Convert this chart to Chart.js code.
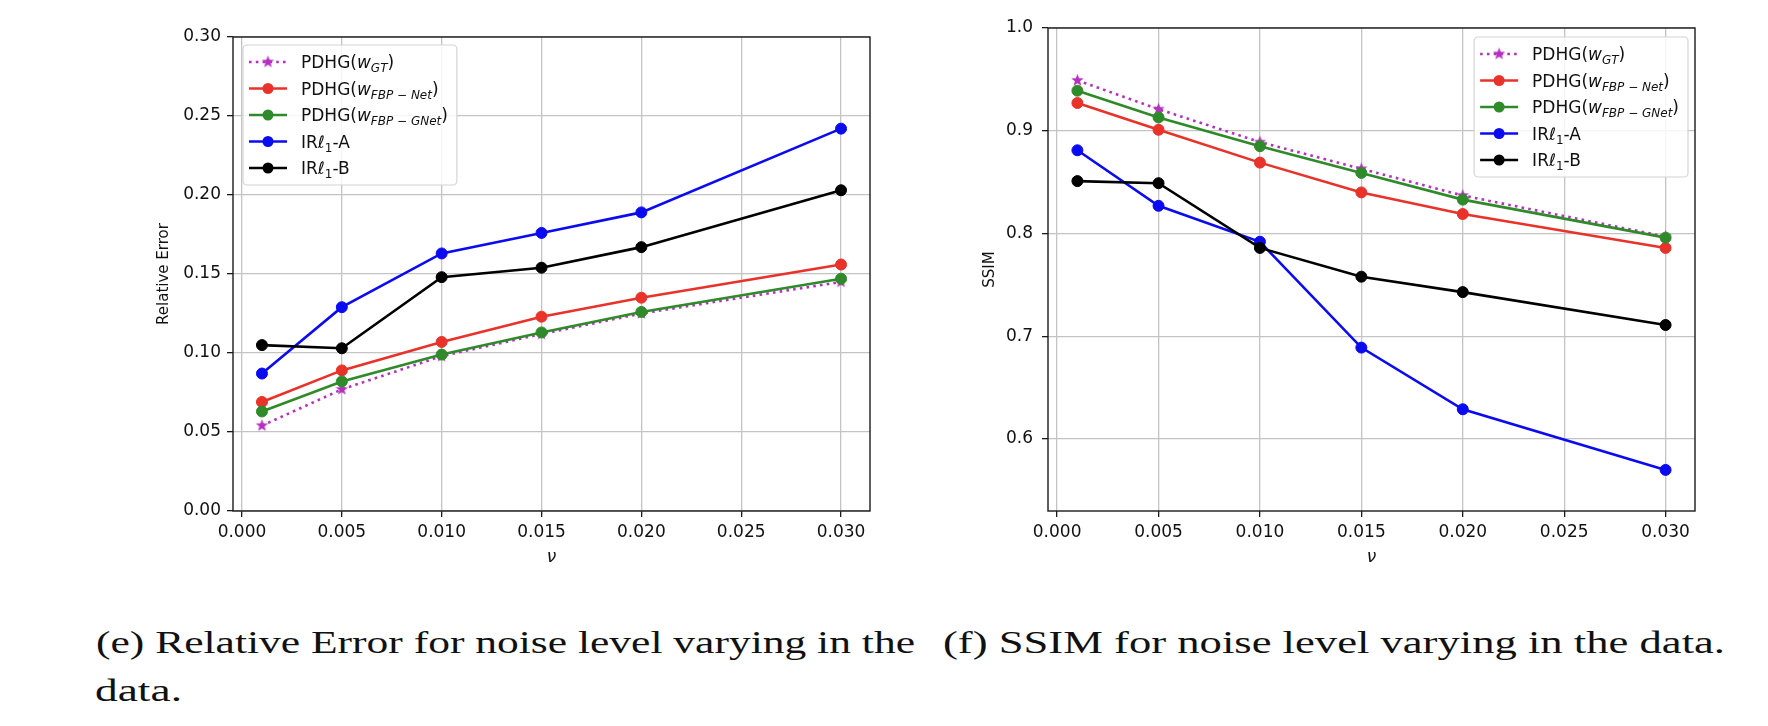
<!DOCTYPE html>
<html lang="en">
<head>
<meta charset="UTF-8">
<title>Relative Error and SSIM for varying noise level</title>
<script src="https://cdn.jsdelivr.net/npm/chart.js"></script>
<style>
  body { margin: 0; background: #fff; width: 1768px; height: 726px; position: relative; overflow: hidden; }
  .plot { position: absolute; top: 0; width: 800px; height: 590px; }
  #left { left: 100px; }
  #right { left: 940px; }
  .cap {
    position: absolute; white-space: nowrap; color: #111;
    font-family: "Liberation Serif", serif; font-size: 31px; line-height: 31px;
    transform-origin: 0 0;
  }
</style>
</head>
<body>
<div class="plot" id="left"><canvas id="errChart"></canvas></div>
<div class="plot" id="right"><canvas id="ssimChart"></canvas></div>

<div class="cap" style="left:96px; top:627px" data-w="819">(e) Relative Error for noise level varying in the</div>
<div class="cap" style="left:95px; top:675px" data-w="87">data.</div>
<div class="cap" style="left:943px; top:627px" data-w="782">(f) SSIM for noise level varying in the data.</div>

<script>
// noise levels (x) and axis ticks
const nu = [0.001, 0.005, 0.010, 0.015, 0.020, 0.030];
const xTicks = [0, 0.005, 0.010, 0.015, 0.020, 0.025, 0.030];
const errTicks = [0, 0.05, 0.10, 0.15, 0.20, 0.25, 0.30];
const ssimTicks = [0.6, 0.7, 0.8, 0.9, 1.0];

// relative error
const errGT     = [0.054, 0.077, 0.098, 0.112, 0.125, 0.145];
const errFBPNet = [0.069, 0.089, 0.107, 0.123, 0.135, 0.156];
const errGNet   = [0.063, 0.082, 0.099, 0.113, 0.126, 0.147];
const errIRA    = [0.087, 0.129, 0.163, 0.176, 0.189, 0.242];
const errIRB    = [0.105, 0.103, 0.148, 0.154, 0.167, 0.203];

// SSIM
const ssimGT     = [0.949, 0.921, 0.889, 0.863, 0.837, 0.797];
const ssimFBPNet = [0.927, 0.901, 0.869, 0.840, 0.819, 0.786];
const ssimGNet   = [0.939, 0.913, 0.885, 0.859, 0.833, 0.796];
const ssimIRA    = [0.881, 0.827, 0.792, 0.689, 0.629, 0.570];
const ssimIRB    = [0.851, 0.849, 0.786, 0.758, 0.743, 0.711];

// legend labels as [text, style] pieces: i = italic, s = subscript
const seriesLabels = [
  [['PDHG(', ''], ['w', 'i'], ['GT', 'is'], [')', '']],
  [['PDHG(', ''], ['w', 'i'], ['FBP', 'is'], [' \u2212 ', 's'], ['Net', 'is'], [')', '']],
  [['PDHG(', ''], ['w', 'i'], ['FBP', 'is'], [' \u2212 ', 's'], ['GNet', 'is'], [')', '']],
  [['IR', ''], ['\u2113', ''], ['1', 's'], ['-A', '']],
  [['IR', ''], ['\u2113', ''], ['1', 's'], ['-B', '']]
];
const colors = ['#b52fc0', '#e8322a', '#2f8a2a', '#0b0bf2', '#000000'];

Chart.defaults.font.family = '"DejaVu Sans", sans-serif';
Chart.defaults.font.size = 17;
Chart.defaults.color = '#111';

function makeStar(color, r) {
  const c = document.createElement('canvas');
  const s = Math.ceil(r * 2 + 2);
  c.width = c.height = s;
  const g = c.getContext('2d');
  g.fillStyle = color;
  g.beginPath();
  for (let k = 0; k < 10; k++) {
    const rr = k % 2 ? r * 0.42 : r;
    const a = -Math.PI / 2 + k * Math.PI / 5;
    g.lineTo(s / 2 + rr * Math.cos(a), s / 2 + rr * Math.sin(a));
  }
  g.closePath();
  g.fill();
  return c;
}
const starImg = makeStar(colors[0], 6.5);

function makeSets(series) {
  return series.map((vals, k) => ({
    label: seriesLabels[k].map(p => p[0]).join(''),
    data: nu.map((x, i) => ({ x: x, y: vals[i] })),
    borderColor: colors[k],
    backgroundColor: colors[k],
    borderWidth: 2.6,
    borderDash: k === 0 ? [2.6, 4.2] : [],
    pointStyle: k === 0 ? starImg : 'circle',
    pointRadius: k === 0 ? 6.5 : 5.5,
    pointBorderWidth: 1,
    pointBackgroundColor: colors[k],
    pointBorderColor: colors[k],
    tension: 0,
    fill: false,
    order: 5 - k
  }));
}

// matplotlib style box round the plot area
const framePlugin = {
  id: 'frame',
  afterDatasetsDraw(chart) {
    const { ctx, chartArea: a } = chart;
    ctx.save();
    ctx.strokeStyle = '#1a1a1a';
    ctx.lineWidth = 1.4;
    ctx.strokeRect(a.left, a.top, a.right - a.left, a.bottom - a.top);
    ctx.restore();
  }
};

// legend drawn by hand so the labels can have subscripts
const legendPlugin = {
  id: 'mplLegend',
  afterDraw(chart, args, opts) {
    const { ctx, chartArea: a } = chart;
    const font = st => (st.includes('i') ? 'italic ' : '') + (st.includes('s') ? 12 : 17) + 'px "DejaVu Sans"';
    ctx.save();
    const widths = seriesLabels.map(row => row.reduce((w, p) => {
      ctx.font = font(p[1]);
      return w + ctx.measureText(p[0]).width;
    }, 0));
    const boxW = 58 + Math.max(...widths) + 9;
    const rowH = 26.5, edge = 17;
    const boxH = edge * 2 + rowH * 4;
    const x0 = opts.side === 'left' ? a.left + 10 : a.right - 7 - boxW;
    const y0 = a.top + opts.dy;

    ctx.beginPath();
    if (ctx.roundRect) ctx.roundRect(x0, y0, boxW, boxH, 4);
    else ctx.rect(x0, y0, boxW, boxH);
    ctx.fillStyle = 'rgba(255,255,255,0.85)';
    ctx.fill();
    ctx.strokeStyle = '#d4d4d4';
    ctx.lineWidth = 1.2;
    ctx.stroke();

    chart.data.datasets.forEach((ds, k) => {
      const y = y0 + edge + k * rowH;
      const hx0 = x0 + 6, hx1 = x0 + 44, hc = (hx0 + hx1) / 2;
      ctx.beginPath();
      ctx.setLineDash(ds.borderDash);
      ctx.strokeStyle = ds.borderColor;
      ctx.lineWidth = ds.borderWidth;
      ctx.moveTo(hx0, y);
      ctx.lineTo(hx1, y);
      ctx.stroke();
      ctx.setLineDash([]);
      if (ds.pointStyle === 'circle') {
        ctx.beginPath();
        ctx.arc(hc, y, ds.pointRadius, 0, Math.PI * 2);
        ctx.fillStyle = ds.pointBackgroundColor;
        ctx.fill();
      } else {
        ctx.drawImage(ds.pointStyle, hc - ds.pointStyle.width / 2, y - ds.pointStyle.height / 2);
      }
      let tx = x0 + 58;
      const base = y + 6;
      ctx.fillStyle = '#111';
      ctx.textBaseline = 'alphabetic';
      ctx.textAlign = 'left';
      seriesLabels[k].forEach(p => {
        ctx.font = font(p[1]);
        ctx.fillText(p[0], tx, p[1].includes('s') ? base + 4 : base);
        tx += ctx.measureText(p[0]).width;
      });
    });
    ctx.restore();
  }
};

function makeChart(id, series, yMin, yMax, yTicks, yDigits, yTitle, layout, yWidth, yPad, side, legendDy) {
  return new Chart(document.getElementById(id), {
    type: 'line',
    data: { datasets: makeSets(series) },
    plugins: [framePlugin, legendPlugin],
    options: {
      responsive: true,
      maintainAspectRatio: false,
      animation: false,
      events: [],
      layout: { padding: layout },
      plugins: {
        legend: { display: false },
        tooltip: { enabled: false },
        mplLegend: { side: side, dy: legendDy }
      },
      scales: {
        x: {
          type: 'linear',
          min: -0.00045,
          max: 0.03145,
          afterBuildTicks: s => { s.ticks = xTicks.map(v => ({ value: v })); },
          afterFit: s => { s.height = 79; },
          ticks: { callback: v => v.toFixed(3), padding: 5, maxRotation: 0, autoSkip: false },
          grid: { color: '#c4c4c4', lineWidth: 1.3, tickColor: '#1a1a1a', tickLength: 6, tickWidth: 1.3 },
          border: { display: false },
          title: { display: true, text: '\u03bd', font: { style: 'italic', size: 17 }, padding: { top: 0, bottom: 21.8 } }
        },
        y: {
          type: 'linear',
          min: yMin,
          max: yMax,
          afterBuildTicks: s => { s.ticks = yTicks.map(v => ({ value: v })); },
          afterFit: s => { s.width = yWidth; },
          ticks: { callback: v => v.toFixed(yDigits), padding: yPad },
          grid: { color: '#c4c4c4', lineWidth: 1.3, tickColor: '#1a1a1a', tickLength: 6, tickWidth: 1.3 },
          border: { display: false },
          title: { display: true, text: yTitle, font: { size: 15 }, padding: { top: 0, bottom: 0 } }
        }
      }
    }
  });
}

makeChart('errChart', [errGT, errFBPNet, errGNet, errIRA, errIRB], 0, 0.30, errTicks, 2,
  'Relative Error', { left: 55, right: 30, top: 37, bottom: 0 }, 78, 6, 'left', 8);
makeChart('ssimChart', [ssimGT, ssimFBPNet, ssimGNet, ssimIRA, ssimIRB], 0.53, 1.0, ssimTicks, 1,
  'SSIM', { left: 41, right: 45, top: 28, bottom: 0 }, 67, 9, 'right', 9);

// stretch the serif caption lines to the widths in the figure
document.querySelectorAll('.cap').forEach(el => {
  const w = el.getBoundingClientRect().width;
  el.style.transform = 'scaleX(' + (el.dataset.w / w) + ')';
});
</script>
</body>
</html>
